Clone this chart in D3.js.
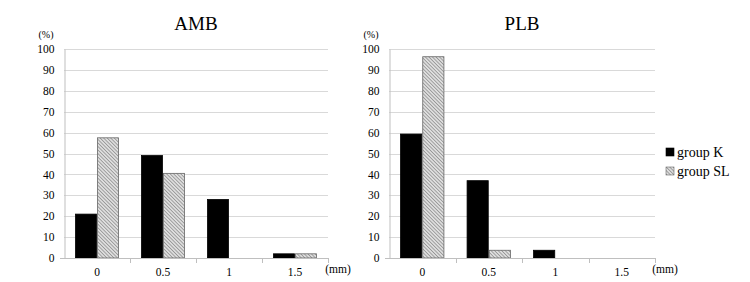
<!DOCTYPE html>
<html>
<head>
<meta charset="utf-8">
<script src="https://cdn.jsdelivr.net/npm/d3@7"></script>
<style>
  body { margin: 0; background: #fff; }
  text { font-family: "Liberation Serif", "Times New Roman", serif; fill: #000; }
</style>
</head>
<body>
<svg width="750" height="282"></svg>
<script>
// categories (mm) and series (%)
let categories = ['0', '0.5', '1', '1.5'];
let groups = ['group K', 'group SL'];
let yTicks = [0, 10, 20, 30, 40, 50, 60, 70, 80, 90, 100];

let ambK = [21, 49, 28, 2];
let ambSL = [57.5, 40.5, 0, 2];
let plbK = [59.3, 37, 3.7, 0];
let plbSL = [96.3, 3.7, 0, 0];

let panels = [
  {title: 'AMB', k: ambK, sl: ambSL, left: 64, right: 328},
  {title: 'PLB', k: plbK, sl: plbSL, left: 389, right: 655}
];

let plotTop = 49, plotBottom = 258;
let serif = '"Liberation Serif", "Times New Roman", serif';
let svg = d3.select('svg');

// hatch pattern for group SL
let defs = svg.append('defs');
let pat = defs.append('pattern')
  .attr('id', 'hatch')
  .attr('patternUnits', 'userSpaceOnUse')
  .attr('width', 2.5)
  .attr('height', 2.5)
  .attr('patternTransform', 'rotate(-45)');
pat.append('rect').attr('width', 2.5).attr('height', 2.5).attr('fill', '#dedede');
pat.append('line')
  .attr('x1', 0).attr('y1', 0).attr('x2', 0).attr('y2', 2.5)
  .attr('stroke', '#7a7a7a').attr('stroke-width', 1.2);

let yScale = d3.scaleLinear().domain([0, 100]).range([plotBottom, plotTop]);

panels.forEach((p) => {
  let g = svg.append('g');
  let xScale = d3.scaleBand().domain(categories).range([p.left, p.right]).paddingInner(0).paddingOuter(0);
  let sub = d3.scaleBand().domain(groups).range([0, xScale.bandwidth()]).paddingInner(0).paddingOuter(0.5);

  // gridlines
  g.append('g')
    .selectAll('line')
    .data(yTicks.slice(1))
    .enter().append('line')
    .attr('x1', p.left).attr('x2', p.right)
    .attr('y1', (d) => Math.round(yScale(d)) + 0.5)
    .attr('y2', (d) => Math.round(yScale(d)) + 0.5)
    .attr('stroke', '#d9d9d9');

  // y axis
  let yAxis = g.append('g')
    .attr('transform', `translate(${p.left + 0.5},0)`)
    .call(d3.axisLeft(yScale).tickValues(yTicks).tickSize(0).tickPadding(10))
    .attr('font-family', serif).attr('font-size', 11.5);
  yAxis.select('.domain').attr('stroke', '#bfbfbf');

  // bars
  let rows = categories.map((c, i) => ({cat: c, vals: [p.k[i], p.sl[i]]}));
  let cat = g.selectAll('.cat')
    .data(rows)
    .enter().append('g')
    .attr('transform', (d) => `translate(${xScale(d.cat)},0)`);
  cat.selectAll('rect')
    .data((d) => d.vals.map((v, j) => ({g: groups[j], v: v})))
    .enter().append('rect')
    .filter((d) => d.v > 0)
    .attr('x', (d) => sub(d.g) + 0.5)
    .attr('width', sub.bandwidth() - 1)
    .attr('y', (d) => yScale(d.v))
    .attr('height', (d) => yScale(0) - yScale(d.v))
    .attr('fill', (d) => d.g === 'group K' ? '#000' : 'url(#hatch)')
    .attr('stroke', (d) => d.g === 'group K' ? '#000' : '#666')
    .attr('stroke-width', 0.8);

  // x axis
  let xAxis = g.append('g')
    .attr('transform', `translate(0,${plotBottom + 0.5})`)
    .call(d3.axisBottom(xScale).tickSize(0).tickPadding(9).tickSizeOuter(0))
    .attr('font-family', serif).attr('font-size', 11.5);
  xAxis.select('.domain').attr('stroke', '#bfbfbf').attr('d', `M${p.left - 4},0H${p.right}`);
  g.append('g')
    .selectAll('line')
    .data(categories.slice(1).concat(['end']))
    .enter().append('line')
    .attr('x1', (d) => Math.round(d === 'end' ? p.right : xScale(d)) + 0.5)
    .attr('x2', (d) => Math.round(d === 'end' ? p.right : xScale(d)) + 0.5)
    .attr('y1', plotBottom).attr('y2', plotBottom + 5)
    .attr('stroke', '#bfbfbf');

  // labels
  g.append('text').attr('x', (p.left + p.right) / 2).attr('y', 30)
    .attr('text-anchor', 'middle').style('font-size', '19px').text(p.title);
  g.append('text').attr('x', p.left - 18).attr('y', 38)
    .attr('text-anchor', 'middle').style('font-size', '10px').text('(%)');
  g.append('text').attr('x', p.right + 10).attr('y', plotBottom + 15)
    .attr('text-anchor', 'middle').style('font-size', '11.5px').text('(mm)');
});

// legend
let legend = svg.append('g').attr('transform', 'translate(666,152)');
groups.forEach((grp, i) => {
  let row = legend.append('g').attr('transform', `translate(0,${i * 19})`);
  row.append('rect').attr('x', 0).attr('y', -4).attr('width', 8).attr('height', 8)
    .attr('fill', i === 0 ? '#000' : 'url(#hatch)')
    .attr('stroke', i === 0 ? '#000' : '#666').attr('stroke-width', 0.6);
  row.append('text').attr('x', 11).attr('y', 5).style('font-size', '14px').text(grp);
});
</script>
</body>
</html>
